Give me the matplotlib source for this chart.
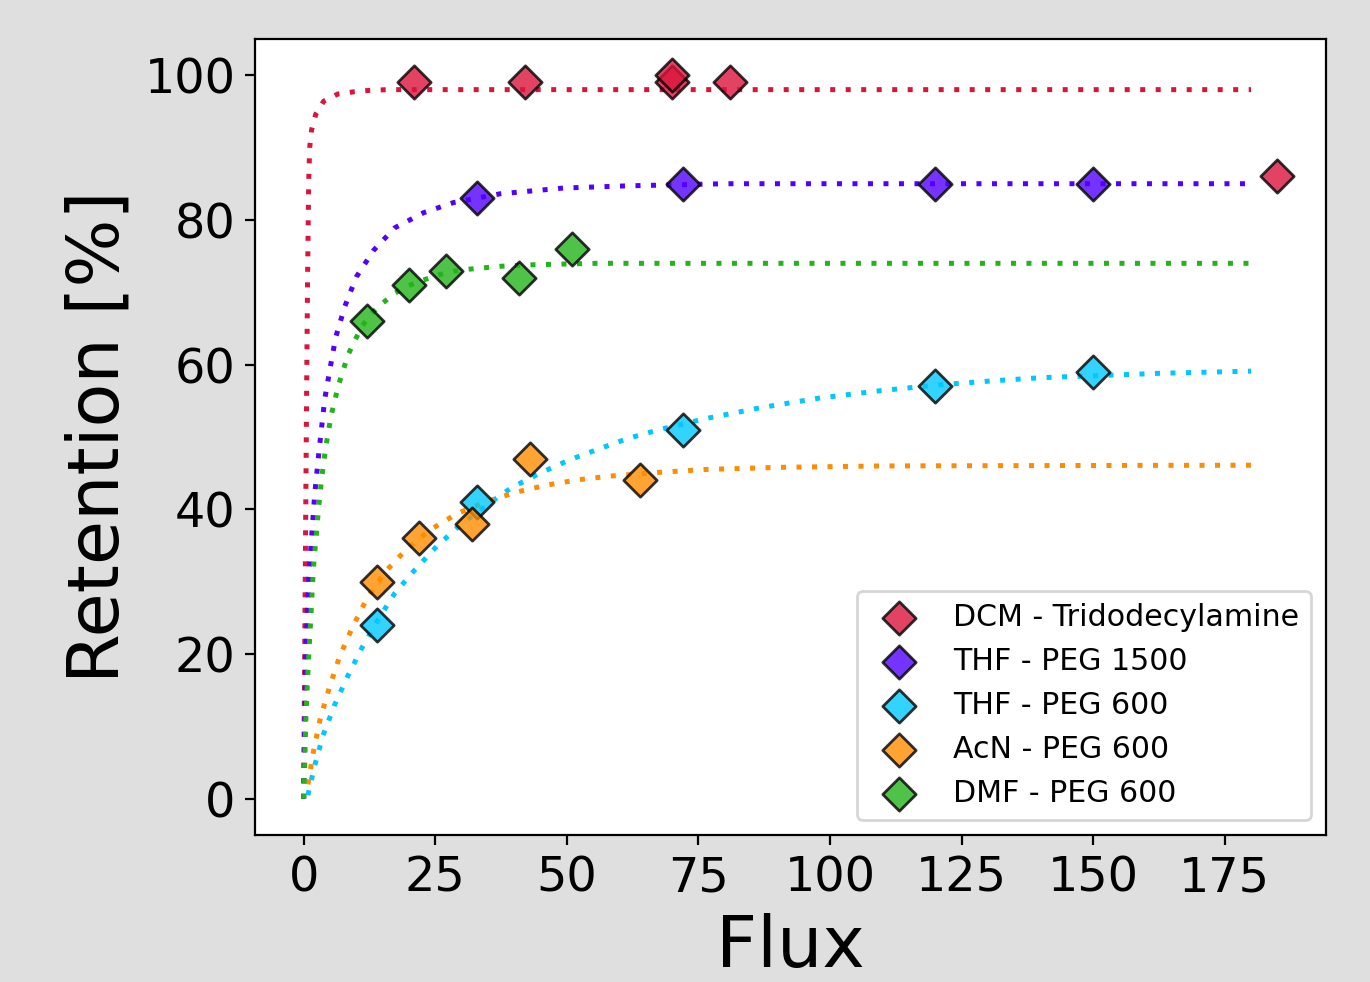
import matplotlib
matplotlib.use("Agg")
import matplotlib.pyplot as plt
from matplotlib.ticker import MultipleLocator

# measured retention points (flux, retention %)
labels = ["DCM - Tridodecylamine", "THF - PEG 1500", "THF - PEG 600",
          "AcN - PEG 600", "DMF - PEG 600"]
curve_colors = ["#dc143c", "#5300ff", "#00c8ff", "#ff8c00", "#22b41a"]

dcm_x = [21, 42, 70, 70, 81, 185]
dcm_y = [99, 99, 99, 100, 99, 86]
thf1500_x = [33, 72, 120, 150]
thf1500_y = [83, 85, 85, 85]
thf600_x = [14, 33, 72, 120, 150]
thf600_y = [24, 41, 51, 57, 59]
acn_x = [14, 22, 32, 43, 64]
acn_y = [30, 36, 38, 47, 44]
dmf_x = [12, 20, 27, 41, 51]
dmf_y = [66, 71, 73, 72, 76]

# fitted curves
dcm_fit_x = [0, 0.3, 0.55, 0.75, 0.95, 1.15, 1.5, 2.3, 3.8, 6.5, 9.5, 12.5, 16, 30, 180]
dcm_fit_y = [0, 30, 55, 72, 85, 90, 92.4, 94.6, 96.4, 97.4, 97.7, 97.9, 98.0, 98.0, 98.0]
thf1500_fit_x = [0, 0.4, 1.0, 1.45, 2.1, 3.0, 4.0, 5.0, 6.1, 7.8, 10, 13.3, 17.3, 22.8,
                 28.5, 37.3, 49.3, 61.3, 80, 100, 180]
thf1500_fit_y = [0, 20, 31.1, 35.5, 42.1, 48.6, 55.2, 59.4, 63.8, 68.0, 72.1, 75.8, 78.9,
                 81.0, 82.4, 83.6, 84.4, 84.7, 85.0, 85.0, 85.0]
thf600_fit_x = [0.8, 2.1, 3.7, 5.9, 8.4, 11.1, 14.1, 17.3, 21.2, 25.3, 29.7, 34.8, 39.5,
                44.9, 50.4, 55.9, 61.6, 67.5, 76.1, 87.2, 98.2, 109.6, 120.6, 131.7,
                140.2, 151.6, 162.6, 180]
thf600_fit_y = [0.5, 4.6, 8.8, 13.0, 17.0, 20.9, 24.7, 28.4, 31.7, 34.9, 37.8, 40.6, 43.0,
                45.0, 46.8, 48.3, 49.8, 51.0, 52.5, 54.1, 55.4, 56.4, 57.2, 57.8,
                58.2, 58.5, 58.8, 59.1]
acn_fit_x = [0.8, 1.95, 3.2, 4.9, 6.8, 9.2, 11.9, 15.4, 19.3, 23.9, 29.1, 34.8, 40.5,
             46.5, 52.3, 58.3, 67.3, 76, 90, 110, 140, 180]
acn_fit_y = [2.0, 6.9, 11.2, 15.4, 19.6, 23.6, 27.5, 31.3, 34.3, 37.1, 39.4, 41.1, 42.4,
             43.4, 44.1, 44.6, 45.1, 45.5, 45.8, 46.0, 46.05, 46.1]
dmf_fit_x = [0, 0.2, 0.44, 0.7, 1.0, 1.33, 1.64, 1.95, 2.3, 2.8, 3.4, 4.2, 5.2, 6.6, 8.4,
             9.7, 11.1, 12.8, 15.0, 17.4, 19.9, 22.8, 25.6, 28.5, 31.6, 37.6, 43.6,
             49.6, 55.6, 70, 180]
dmf_fit_y = [0, 4.9, 11.5, 15.9, 20.2, 24.6, 29.0, 32.8, 35.5, 39.9, 44.2, 48.6, 52.9,
             57.1, 61.3, 63.3, 65.3, 67.0, 68.5, 69.9, 70.9, 71.7, 72.4, 72.9, 73.2,
             73.6, 73.8, 73.9, 74.0, 74.0, 74.0]

points = [(dcm_x, dcm_y), (thf1500_x, thf1500_y), (thf600_x, thf600_y),
          (acn_x, acn_y), (dmf_x, dmf_y)]
fits = [(dcm_fit_x, dcm_fit_y), (thf1500_fit_x, thf1500_fit_y),
        (thf600_fit_x, thf600_fit_y), (acn_fit_x, acn_fit_y), (dmf_fit_x, dmf_fit_y)]

fig = plt.figure(figsize=(6.85, 4.91), dpi=200, facecolor="#dfdfdf")
ax = fig.add_axes([0.1861, 0.1497, 0.7818, 0.8106])

for (fx, fy), c in zip(fits, curve_colors):
    ax.plot(fx, fy, linestyle=(0, (1, 2.1)), lw=1.8, color=c, zorder=2)

for (px, py), c, lab in zip(points, curve_colors, labels):
    ax.scatter(px, py, marker="D", s=72, color=c, edgecolor="black",
               linewidth=1.0, alpha=0.8, label=lab, zorder=3)

ax.xaxis.set_major_locator(MultipleLocator(25))
ax.tick_params(labelsize=17.2)
ax.set_xlabel("Flux", fontsize=25.8)
ax.set_ylabel("Retention [%]", fontsize=25.8)
ax.legend(loc="lower right", fontsize=10.8)

fig.savefig("out.png", dpi=200, facecolor=fig.get_facecolor())
